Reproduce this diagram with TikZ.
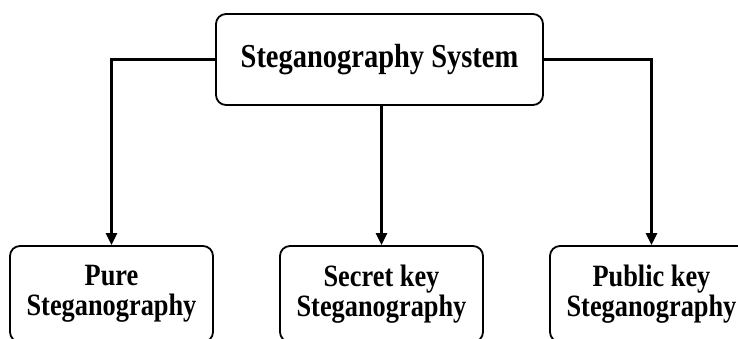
\documentclass[tikz,border=0pt]{standalone}
\usepackage{fontspec}
\setmainfont{Liberation Serif}[FakeStretch=0.85]
\usetikzlibrary{arrows.meta}

\begin{document}
\begin{tikzpicture}[
      x=1pt,y=-1pt,
      box/.style={rectangle,draw,line width=1.8pt,rounded corners=10pt,
        align=center,inner sep=0pt},
      topbox/.style={box,minimum width=327pt,minimum height=91pt,
        font=\fontsize{33.5}{36}\selectfont\bfseries},
      leaf/.style={box,minimum width=203pt,minimum height=96pt,
        font=\fontsize{31}{30}\selectfont\bfseries},
      link/.style={line width=2.6pt,-{Triangle[width=11pt,length=12pt]}},
    ]
    \clip (0,0) rectangle (738,338);
    \node[topbox] (system) at (379.5,59.5) {Steganography System};
    \node[leaf] (pure) at (111.5,294) {Pure\\Steganography};
    \node[leaf] (secret) at (381.5,294) {Secret key\\Steganography};
    \node[leaf] (public) at (651.5,294) {Public key\\Steganography};
    \draw[link] (system.west) -| (pure.north);
    \draw[link] (system.south -| secret.north) -- (secret.north);
    \draw[link] (system.east) -| (public.north);
  \end{tikzpicture}
\end{document}
